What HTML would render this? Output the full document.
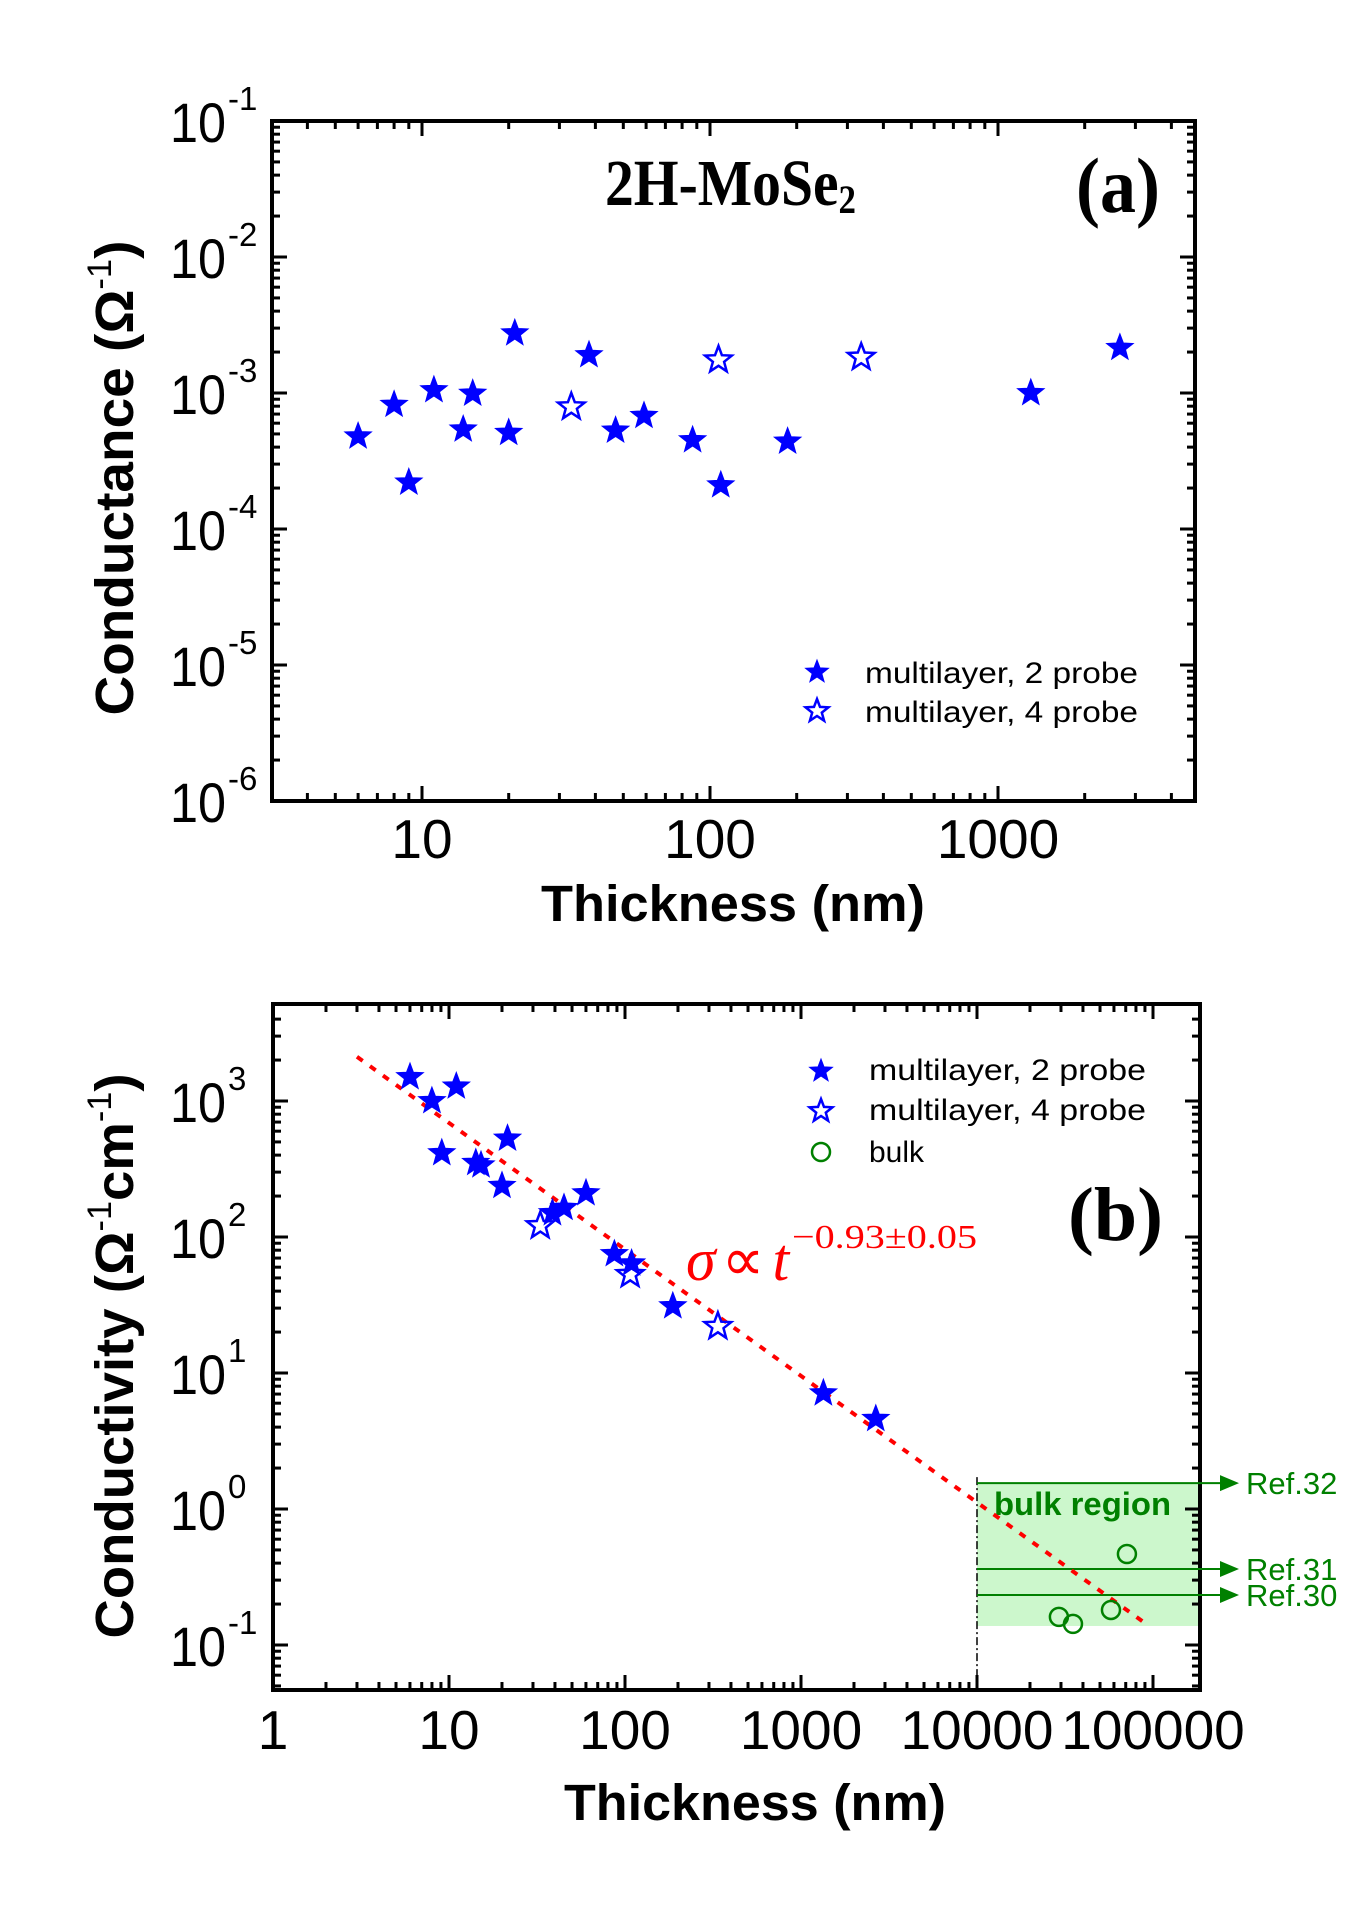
<!DOCTYPE html>
<html><head><meta charset="utf-8"><style>
html,body{margin:0;padding:0;background:#fff;}
svg{display:block;}
text{font-family:"Liberation Sans",Arial,sans-serif;}
.serif{font-family:"Liberation Serif","Times New Roman",serif;}
</style></head><body>
<svg id="fig" width="1345" height="1905" viewBox="0 0 1345 1905" xmlns="http://www.w3.org/2000/svg">
<g id="pa"></g>
<g id="pb"></g>
</svg>
<script>
// ---------- Panel (a) data: conductance vs thickness ----------
const aThick2 = [6.0, 8.0, 9.0, 11, 13.9, 15, 20, 21, 38, 47, 59, 87, 109, 186, 1300, 2650];
const aCond2 = [4.8e-4, 8.2e-4, 2.2e-4, 1.05e-3, 5.4e-4, 9.9e-4, 5.1e-4, 2.75e-3, 1.9e-3, 5.3e-4, 6.8e-4, 4.5e-4, 2.1e-4, 4.4e-4, 1.0e-3, 2.15e-3];
const aThick4 = [33, 107, 335];
const aCond4 = [7.9e-4, 1.75e-3, 1.83e-3];
const aXTicks = [10, 100, 1000];
const aXTickLabels = ["10", "100", "1000"];
const aYExps = [-1, -2, -3, -4, -5, -6];

// ---------- Panel (b) data: conductivity vs thickness ----------
const bThick2 = [6.0, 8.0, 11, 9.1, 14.2, 15.2, 20, 21.5, 38.7, 45, 60, 87, 109, 187, 1340, 2660];
const bCond2 = [1500, 1000, 1280, 414, 351, 337, 238, 530, 150, 164, 210, 75, 64, 31, 7.1, 4.6];
const bThick4 = [33, 107, 337];
const bCond4 = [121, 53, 22];
const bThickBulk = [29200, 35100, 57700, 71100];
const bCondBulk = [0.161, 0.143, 0.181, 0.467];
const bFitRange = [3, 90000];
const bFitPrefactor = [5870];
const bFitExponent = [-0.93];
const bRefNames = ["Ref.32", "Ref.31", "Ref.30"];
const bRefValues = [1.55, 0.362, 0.233];
const bBulkRegion = [10000, 0.138, 1.55];
const bXTicks = [1, 10, 100, 1000, 10000, 100000];
const bXTickLabels = ["1", "10", "100", "1000", "10000", "100000"];
const bYExps = [3, 2, 1, 0, -1];

const NS = "http://www.w3.org/2000/svg";
function mk(parent, tag, attrs, txt){
  const e = document.createElementNS(NS, tag);
  for (const k in attrs) e.setAttribute(k, attrs[k]);
  if (txt !== undefined) e.textContent = txt;
  parent.appendChild(e);
  return e;
}
const L = Math.log10;

// axis functions
const A = {L:272, R:1195, T:121, B:801};
const xA = t => 422 + (L(t) - 1) * 288;
const yA = g => 121 + (-1 - L(g)) * 136;
const B = {L:273, R:1200, T:1004, B:1690};
const xB = t => 273 + L(t) * 176;
const yB = s => 1101 + (3 - L(s)) * 136;

function starPath(cx, cy, R){
  const r = R * 0.42; let d = "";
  for (let i = 0; i < 10; i++){
    const ang = -Math.PI/2 + i * Math.PI/5;
    const rr = i % 2 ? r : R;
    d += (i ? "L" : "M") + (cx + rr*Math.cos(ang)).toFixed(1) + " " + (cy + rr*Math.sin(ang)).toFixed(1);
  }
  return d + "Z";
}

function ticks(g, box, xf, yf, xmin, xmax, ymin, ymax){
  const tk = mk(g, "g", {stroke:"#000", "stroke-width":3});
  
  
  for (let d = Math.floor(L(xmin)); d <= Math.ceil(L(xmax)); d++){
    for (let m = 1; m < 10; m++){
      const v = m * Math.pow(10, d);
      if (v < xmin || v > xmax) continue;
      const x = xf(v), len = m === 1 ? 15 : 8;
      if (x <= box.L + 2 || x >= box.R - 2) continue;
      mk(tk, "line", {x1:x, x2:x, y1:box.B, y2:box.B - len});
      mk(tk, "line", {x1:x, x2:x, y1:box.T, y2:box.T + len});
    }
  }
  for (let d = Math.floor(L(ymin)); d <= Math.ceil(L(ymax)); d++){
    for (let m = 1; m < 10; m++){
      const v = m * Math.pow(10, d);
      if (v < ymin || v > ymax) continue;
      const y = yf(v), len = m === 1 ? 15 : 8;
      if (y <= box.T + 2 || y >= box.B - 2) continue;
      mk(tk, "line", {x1:box.L, x2:box.L + len, y1:y, y2:y});
      mk(tk, "line", {x1:box.R, x2:box.R - len, y1:y, y2:y});
    }
  }
  const fr = mk(g, "rect", {x:box.L, y:box.T, width:box.R-box.L, height:box.B-box.T, fill:"none", stroke:"#000", "stroke-width":4});
  
  
}

function yLabels(g, exps, yf, prefix){
  exps.forEach(e => {
    const y = yf(Math.pow(10, e));
    const t = mk(g, "text", {x:226, y:y + 21, "font-size":56, "text-anchor":"end", textLength:56, lengthAdjust:"spacingAndGlyphs"}, "10");
    
    
    const s = mk(g, "text", {x:228, y:y - 11, "font-size":33}, e < 0 ? "-" + (-e) : String(e));
    
    
  });
}
function xLabels(g, vals, labels, xf, y, prefix){
  vals.forEach((v, i) => {
    const t = mk(g, "text", {x:xf(v), y:y, "font-size":55, "text-anchor":"middle"}, labels[i]);
    
    
  });
}
function stars(g, xs, ys, xf, yf, filled, name){
  xs.forEach((t, i) => {
    const p = mk(g, "path", {d:starPath(xf(t), yf(ys[i]), 14), fill: filled ? "#0000ff" : "none", stroke:"#0000ff", "stroke-width": filled ? 1 : 2.5, "stroke-linejoin":"miter"});
    
    
  });
}

// ===== Panel a =====
const pa = document.getElementById("pa");
ticks(pa, A, xA, yA, 3, 5000, 1e-6, 1e-1);
yLabels(pa, aYExps, yA, "a");
xLabels(pa, aXTicks, aXTickLabels, xA, 858, "a");
stars(pa, aThick2, aCond2, xA, yA, true, "point-2-probe");
stars(pa, aThick4, aCond4, xA, yA, false, "point-4-probe");
let t;
t = mk(pa, "text", {x:733, y:921, "font-size":51, "font-weight":"bold", "text-anchor":"middle", textLength:384, lengthAdjust:"spacingAndGlyphs"}, "Thickness (nm)");
 
t = mk(pa, "text", {transform:"translate(133,478) rotate(-90)", "font-size":54, "font-weight":"bold", "text-anchor":"middle", textLength:475, lengthAdjust:"spacingAndGlyphs"});
 
mk(t, "tspan", {}, "Conductance (Ω");
mk(t, "tspan", {"font-size":34, dy:-22, "font-weight":"normal"}, "-1");
mk(t, "tspan", {dy:22}, ")");
t = mk(pa, "text", {x:605, y:205, "font-size":66, "font-weight":"bold", "class":"serif", textLength:251, lengthAdjust:"spacingAndGlyphs"});
 
mk(t, "tspan", {}, "2H-MoSe");
mk(t, "tspan", {"font-size":40, dy:8}, "2");
t = mk(pa, "text", {x:1076, y:212, "font-size":78, "font-weight":"bold", "class":"serif", textLength:84, lengthAdjust:"spacingAndGlyphs"}, "(a)");
 
// legend a
const lga = mk(pa, "g", {});
 
let p = mk(lga, "path", {d:starPath(817, 672, 12), fill:"#0000ff", stroke:"#0000ff"});
 
t = mk(lga, "text", {x:865, y:683, "font-size":30, textLength:273, lengthAdjust:"spacingAndGlyphs"}, "multilayer, 2 probe");
 
p = mk(lga, "path", {d:starPath(817, 711, 12), fill:"none", stroke:"#0000ff", "stroke-width":2.5});
 
t = mk(lga, "text", {x:865, y:722, "font-size":30, textLength:273, lengthAdjust:"spacingAndGlyphs"}, "multilayer, 4 probe");
 

// ===== Panel b =====
const pb = document.getElementById("pb");
const rx = xB(bBulkRegion[0]);
const reg = mk(pb, "rect", {x:rx, y:yB(bBulkRegion[2]), width:B.R - rx, height:yB(bBulkRegion[1]) - yB(bBulkRegion[2]), fill:"#ccf7cc"});
 
const vl = mk(pb, "line", {x1:rx, x2:rx, y1:yB(bBulkRegion[2]) - 6, y2:B.B, stroke:"#000", "stroke-width":1.5, "stroke-dasharray":"8 3 2 3"});
 
ticks(pb, B, xB, yB, 1, 190000, 0.047, 5100);
yLabels(pb, bYExps, yB, "b");
xLabels(pb, bXTicks, bXTickLabels, xB, 1749, "b");
bRefNames.forEach((nm, i) => {
  const y = yB(bRefValues[i]);
  const ln = mk(pb, "line", {x1:rx, x2:1222, y1:y, y2:y, stroke:"#008000", "stroke-width":2});
   
  const ar = mk(pb, "path", {d:`M1220 ${y-8} L1239 ${y} L1220 ${y+8} Z`, fill:"#008000"});
   
  const tx = mk(pb, "text", {x:1246, y:y + 11, "font-size":31, fill:"#008000"}, nm);
   
});
t = mk(pb, "text", {x:994, y:1515, "font-size":32, "font-weight":"bold", fill:"#008000", textLength:177, lengthAdjust:"spacingAndGlyphs"}, "bulk region");
 
const f = t0 => bFitPrefactor[0] * Math.pow(t0, bFitExponent[0]);
const fit = mk(pb, "line", {x1:xB(bFitRange[0]), y1:yB(f(bFitRange[0])), x2:xB(bFitRange[1]), y2:yB(f(bFitRange[1])), stroke:"#ff0000", "stroke-width":4, "stroke-dasharray":"7 9"});
 
stars(pb, bThick2, bCond2, xB, yB, true, "point-2-probe");
stars(pb, bThick4, bCond4, xB, yB, false, "point-4-probe");
bThickBulk.forEach((tt, i) => {
  const c = mk(pb, "circle", {cx:xB(tt), cy:yB(bCondBulk[i]), r:9, fill:"none", stroke:"#008000", "stroke-width":2.5});
   
});
t = mk(pb, "text", {x:755, y:1820, "font-size":51, "font-weight":"bold", "text-anchor":"middle", textLength:382, lengthAdjust:"spacingAndGlyphs"}, "Thickness (nm)");
 
t = mk(pb, "text", {transform:"translate(133,1356) rotate(-90)", "font-size":54, "font-weight":"bold", "text-anchor":"middle", textLength:565, lengthAdjust:"spacingAndGlyphs"});
 
mk(t, "tspan", {}, "Conductivity (Ω");
mk(t, "tspan", {"font-size":34, dy:-22, "font-weight":"normal"}, "-1");
mk(t, "tspan", {dy:22}, "cm");
mk(t, "tspan", {"font-size":34, dy:-22, "font-weight":"normal"}, "-1");
mk(t, "tspan", {dy:22}, ")");
t = mk(pb, "text", {x:1068, y:1240, "font-size":76, "font-weight":"bold", "class":"serif", textLength:95, lengthAdjust:"spacingAndGlyphs"}, "(b)");
 
t = mk(pb, "text", {x:686, y:1280, "font-size":60, fill:"#ff0000", "class":"serif", "font-style":"italic"});
 
mk(t, "tspan", {}, "σ");
mk(t, "tspan", {"font-style":"normal", dx:6}, "∝");
mk(t, "tspan", {dx:8}, "t");
t = mk(pb, "text", {x:792, y:1248, "font-size":34, fill:"#ff0000", "class":"serif", textLength:185, lengthAdjust:"spacingAndGlyphs"}, "−0.93±0.05");
 
const lgb = mk(pb, "g", {});
 
p = mk(lgb, "path", {d:starPath(821, 1071, 12), fill:"#0000ff", stroke:"#0000ff"});
 
t = mk(lgb, "text", {x:869, y:1080, "font-size":30, textLength:277, lengthAdjust:"spacingAndGlyphs"}, "multilayer, 2 probe");
 
p = mk(lgb, "path", {d:starPath(821, 1111, 12), fill:"none", stroke:"#0000ff", "stroke-width":2.5});
 
t = mk(lgb, "text", {x:869, y:1120, "font-size":30, textLength:277, lengthAdjust:"spacingAndGlyphs"}, "multilayer, 4 probe");
 
p = mk(lgb, "circle", {cx:821, cy:1152, r:9, fill:"none", stroke:"#008000", "stroke-width":2.5});
 
t = mk(lgb, "text", {x:869, y:1162, "font-size":30}, "bulk");
 
</script>
</body></html>
